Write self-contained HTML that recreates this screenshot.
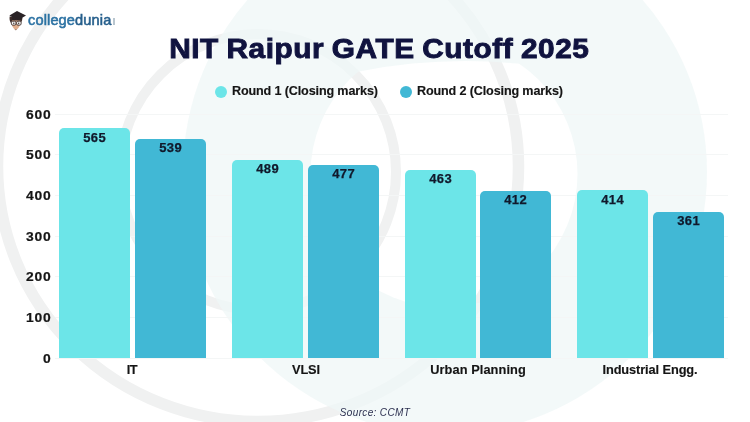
<!DOCTYPE html>
<html lang="en">
<head>
<meta charset="utf-8">
<title>NIT Raipur GATE Cutoff 2025</title>
<style>
  html, body { margin: 0; padding: 0; }
  body {
    width: 750px; height: 422px; overflow: hidden; position: relative;
    background: #ffffff;
    font-family: "Liberation Sans", sans-serif;
    color: #111;
  }
  #bg { position: absolute; left: 0; top: 0; width: 750px; height: 422px; }
  .abs { position: absolute; white-space: nowrap; }
  .abs, .val { will-change: transform; }

  /* logo */
  #logo-text {
    left: 28.4px; top: 10.5px; font-size: 14.6px; font-weight: normal; color: #2c72a3;
    letter-spacing: 0.12px; line-height: 18px; -webkit-text-stroke: 0.55px #2c72a3;
  }
  #logo-text b { color: #265f8c; font-weight: normal; -webkit-text-stroke: 0.55px #265f8c; }

  /* title */
  #title {
    left: 128.6px; top: 32px; width: 500px; text-align: center;
    font-size: 26.8px; line-height: 34px; font-weight: bold; color: #10133f;
    letter-spacing: 0.5px; text-indent: 0.5px; -webkit-text-stroke: 0.9px #10133f; word-spacing: -1px;
    transform: scaleX(1.111); transform-origin: 50% 50%;
  }

  /* legend */
  .dot { position: absolute; width: 12px; height: 12px; border-radius: 50%; }
  .leg {
    font-size: 12.6px; line-height: 16px; font-weight: bold; color: #151515;
    letter-spacing: -0.14px; -webkit-text-stroke: 0.15px #151515;
  }

  /* axis */
  .ytick {
    left: 10px; width: 41.5px; text-align: right; margin-top: 0.3px;
    font-size: 12.6px; line-height: 14px; font-weight: bold; color: #151515;
    letter-spacing: 0.7px;
    transform: scaleX(1.1); transform-origin: 100% 50%; -webkit-text-stroke: 0.2px #151515;
  }
  .grid { position: absolute; left: 55px; width: 673px; height: 1px; background: #f4f6f6; }

  /* bars */
  .bar { position: absolute; width: 71px; border-radius: 5px 5px 0 0; }
  .r1 { background: #6ce5e8; }
  .r2 { background: #41b8d5; }
  .val {
    position: absolute; left: 0; width: 100%; top: 2.3px; text-align: center;
    font-size: 12.5px; line-height: 14px; font-weight: bold; color: #10182b;
    letter-spacing: 0.4px; text-indent: 0.4px;
    transform: scaleX(1.04); transform-origin: 50% 50%; -webkit-text-stroke: 0.25px #10182b;
  }

  .cat {
    font-size: 12.8px; line-height: 16px; font-weight: bold; color: #151515;
    text-align: center; -webkit-text-stroke: 0.15px #151515;
  }
  #source {
    left: 300px; width: 150px; top: 405.7px; text-align: center;
    font-size: 10px; line-height: 13px; font-style: italic; color: #2c3050;
    letter-spacing: 0.35px;
  }
</style>
</head>
<body>

<svg id="bg" viewBox="0 0 750 422">
  <defs>
    <clipPath id="archclip"><circle cx="465" cy="597" r="536"/></clipPath>
    <mask id="holemask" maskUnits="userSpaceOnUse" x="0" y="0" width="750" height="422">
      <rect x="0" y="0" width="750" height="422" fill="#fff"/>
      <circle cx="444" cy="174" r="133.5" fill="#000" clip-path="url(#archclip)"/>
    </mask>
  </defs>
  <rect x="0" y="0" width="750" height="422" fill="#ffffff"/>
  <!-- greyish rings (under the pale disk) -->
  <ellipse cx="258" cy="166.5" rx="260.5" ry="255" fill="none" stroke="#f0f1f1" stroke-width="11.5"/>
  <circle cx="258" cy="172" r="138" fill="none" stroke="#f0f1f1" stroke-width="10"/>
  <!-- large pale disk with a white hole -->
  <circle cx="445" cy="172" r="262" fill="#eff7f7" fill-opacity="0.75" mask="url(#holemask)"/>
</svg>

<!-- logo -->
<svg class="abs" style="left:8px; top:9px;" width="20" height="24" viewBox="8 9 20 24">
  <!-- face -->
  <path d="M11.6 19.5 Q11.2 25.5 13.6 28.3 Q15.8 31.2 17.9 28.6 Q20.6 26 20.6 19.5 Z" fill="#e0ae8e"/>
  <!-- hair -->
  <path d="M9.6 16.5 Q9.2 21.8 11.4 23.4 L12 20.6 Q16 19.2 20.4 20.8 L20.9 23.2 Q22.8 21 22.2 16.8 Z" fill="#3b2b28"/>
  <!-- glasses -->
  <rect x="11.4" y="21.2" width="4.5" height="3.9" rx="1.3" fill="#f4f4f4" stroke="#3b2b28" stroke-width="0.9"/>
  <rect x="16.6" y="21.2" width="4.5" height="3.9" rx="1.3" fill="#f4f4f4" stroke="#3b2b28" stroke-width="0.9"/>
  <circle cx="13.8" cy="23.3" r="0.7" fill="#3b2b28"/>
  <circle cx="18.7" cy="23.3" r="0.7" fill="#3b2b28"/>
  <!-- beard tip -->
  <path d="M14.6 29.2 Q15.8 31.4 17 29.2 Q15.8 29.9 14.6 29.2 Z" fill="#6b4a3c"/>
  <!-- mortarboard -->
  <path d="M9.4 15.6 L17 10.9 L26 15.4 L18 20.2 Z" fill="#2a2326"/>
  <path d="M11.8 17.2 L11.8 19.6 Q16.8 22 22.4 18.6 L22.4 17.6 L18 20.2 Z" fill="#2a2326"/>
</svg>
<div class="abs" id="logo-text">college<b>dunia</b></div>
<div class="abs" style="left:113px; top:17.5px; width:1.6px; height:7px; background:#b9c6cf;"></div>

<!-- title -->
<div class="abs" id="title">NIT Raipur GATE Cutoff 2025</div>

<!-- legend -->
<div class="dot r1" style="left:214.6px; top:85.5px;"></div>
<div class="abs leg" style="left:232px; top:82.5px;">Round 1 (Closing marks)</div>
<div class="dot r2" style="left:399.9px; top:85.5px;"></div>
<div class="abs leg" style="left:417px; top:82.5px;">Round 2 (Closing marks)</div>

<!-- gridlines -->
<div class="grid" style="top:113.5px;"></div>
<div class="grid" style="top:154.2px;"></div>
<div class="grid" style="top:194.8px;"></div>
<div class="grid" style="top:235.5px;"></div>
<div class="grid" style="top:276.2px;"></div>
<div class="grid" style="top:316.8px;"></div>
<div class="grid" style="top:357.5px;"></div>

<!-- y ticks -->
<div class="abs ytick" style="top:107.5px;">600</div>
<div class="abs ytick" style="top:148.2px;">500</div>
<div class="abs ytick" style="top:188.8px;">400</div>
<div class="abs ytick" style="top:229.5px;">300</div>
<div class="abs ytick" style="top:270.2px;">200</div>
<div class="abs ytick" style="top:310.8px;">100</div>
<div class="abs ytick" style="top:351.5px;">0</div>

<!-- bars -->
<div class="bar r1" style="left:59.4px; top:128.4px; height:229.4px;"><div class="val">565</div></div>
<div class="bar r2" style="left:135.3px; top:139.1px; height:218.7px;"><div class="val">539</div></div>
<div class="bar r1" style="left:232.1px; top:159.5px; height:198.3px;"><div class="val">489</div></div>
<div class="bar r2" style="left:307.8px; top:164.5px; height:193.3px;"><div class="val">477</div></div>
<div class="bar r1" style="left:404.7px; top:170.2px; height:187.6px;"><div class="val">463</div></div>
<div class="bar r2" style="left:480.3px; top:191.1px; height:166.7px;"><div class="val">412</div></div>
<div class="bar r1" style="left:577.4px; top:190.3px; height:167.5px;"><div class="val">414</div></div>
<div class="bar r2" style="left:653.0px; top:211.9px; height:145.9px;"><div class="val">361</div></div>

<!-- categories -->
<div class="abs cat" style="left:57.2px;  width:150px; top:362.3px; letter-spacing:-0.5px;">IT</div>
<div class="abs cat" style="left:230.8px; width:150px; top:362.3px; letter-spacing:-0.13px;">VLSI</div>
<div class="abs cat" style="left:402.7px; width:150px; top:362.3px; letter-spacing:0.08px;">Urban Planning</div>
<div class="abs cat" style="left:575.2px; width:150px; top:362.3px; letter-spacing:-0.1px;">Industrial Engg.</div>

<div class="abs" id="source">Source: CCMT</div>

</body>
</html>
